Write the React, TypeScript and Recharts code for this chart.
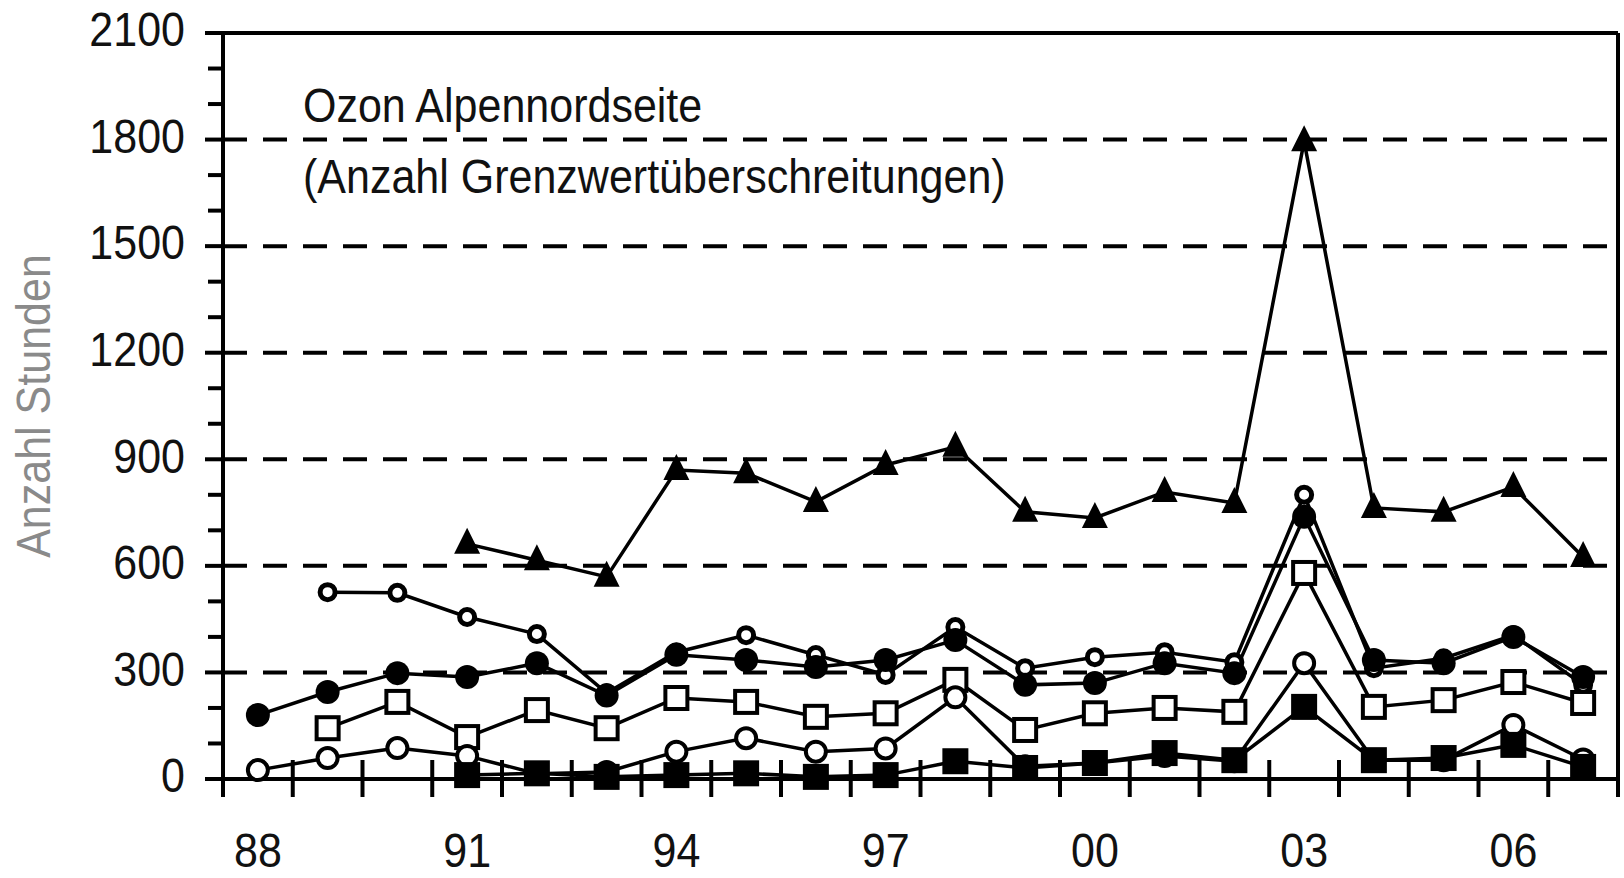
import { LineChart, Line, XAxis, YAxis, ReferenceLine } from 'recharts';

const years = [
  1988, 1989, 1990, 1991, 1992, 1993, 1994, 1995, 1996, 1997,
  1998, 1999, 2000, 2001, 2002, 2003, 2004, 2005, 2006, 2007,
];
const labelYears = [1988, 1991, 1994, 1997, 2000, 2003, 2006];

// hours above limit, one list per station (marker type)
const triangles = [null, null, null, 662, 616, 569, 870, 861, 780, 884, 935, 752, 735, 808, 777, 1795, 763, 752, 822, 625];
const smallCircles = [null, 526, 524, 456, 408, 242, 357, 405, 349, 293, 428, 312, 343, 357, 329, 800, 312, 340, 405, 265];
const filledCircles = [180, 245, 298, 287, 326, 235, 350, 335, 315, 335, 391, 265, 270, 326, 298, 738, 335, 326, 400, 287];
const openSquares = [null, 143, 217, 118, 194, 143, 228, 217, 175, 185, 279, 138, 185, 200, 189, 580, 203, 222, 273, 214];
const openCircles = [25, 59, 87, 65, 15, 20, 77, 115, 77, 86, 230, 36, 45, 65, 50, 326, 53, 53, 152, 55];
const filledSquares = [null, null, null, 11, 16, 6, 11, 16, 6, 11, 50, 31, 45, 73, 53, 203, 53, 59, 96, 34];

const yTicks = Array.from({ length: 22 }, (_, i) => i * 100);
const gridValues = [300, 600, 900, 1200, 1500, 1800];

const data = years.map((year, i) => ({
  year,
  triangles: triangles[i],
  smallCircles: smallCircles[i],
  filledCircles: filledCircles[i],
  openSquares: openSquares[i],
  openCircles: openCircles[i],
  filledSquares: filledSquares[i],
}));

const xTicks = [
  ...years.map((y) => y - 0.5),
  years[years.length - 1] + 0.5,
  ...labelYears,
].sort((a, b) => a - b);

const FONT = '"Liberation Sans", Arial, sans-serif';

function YTick({ x, y, payload }: any) {
  const v = payload.value;
  const major = v % 300 === 0;
  return (
    <g>
      <line x1={x - (major ? 18 : 15)} x2={x} y1={y} y2={y} stroke="#000" strokeWidth={4} />
      {major && (
        <g transform={`translate(${x - 38} ${y - 4}) scale(1 1.12)`}>
          <text x={0} y={15.4} textAnchor="end" fontSize={43} fontFamily={FONT} fill="#111">
            {v}
          </text>
        </g>
      )}
    </g>
  );
}

function XTick({ x, y, payload }: any) {
  const v = payload.value;
  if (!Number.isInteger(v)) {
    return <line x1={x} x2={x} y1={y - 19} y2={y + 18} stroke="#000" strokeWidth={4} />;
  }
  return (
    <g transform={`translate(${x} ${y + 71}) scale(1 1.1)`}>
      <text x={0} y={15.4} textAnchor="middle" fontSize={43} fontFamily={FONT} fill="#111">
        {String(v).slice(2)}
      </text>
    </g>
  );
}

const empty = (key: string) => <g key={key} />;

const triangleDot = (p: any) => {
  const k = `tri-${p.index}`;
  if (p.cy == null || p.value == null) return empty(k);
  const { cx, cy } = p;
  return <path key={k} d={`M${cx},${cy - 16} L${cx + 13},${cy + 10} L${cx - 13},${cy + 10} Z`} fill="#000" />;
};
const smallCircleDot = (p: any) => {
  const k = `sc-${p.index}`;
  if (p.cy == null || p.value == null) return empty(k);
  return <circle key={k} cx={p.cx} cy={p.cy} r={7.5} fill="#fff" stroke="#000" strokeWidth={5} />;
};
const filledCircleDot = (p: any) => {
  const k = `fc-${p.index}`;
  if (p.cy == null || p.value == null) return empty(k);
  return <circle key={k} cx={p.cx} cy={p.cy} r={12} fill="#000" />;
};
const openSquareDot = (p: any) => {
  const k = `os-${p.index}`;
  if (p.cy == null || p.value == null) return empty(k);
  return <rect key={k} x={p.cx - 11} y={p.cy - 11} width={22} height={22} fill="#fff" stroke="#000" strokeWidth={4} />;
};
const openCircleDot = (p: any) => {
  const k = `oc-${p.index}`;
  if (p.cy == null || p.value == null) return empty(k);
  return <circle key={k} cx={p.cx} cy={p.cy} r={10} fill="#fff" stroke="#000" strokeWidth={4} />;
};
const filledSquareDot = (p: any) => {
  const k = `fs-${p.index}`;
  if (p.cy == null || p.value == null) return empty(k);
  return <rect key={k} x={p.cx - 13} y={p.cy - 13} width={26} height={26} fill="#000" />;
};

const textStyle = {
  position: 'absolute' as const,
  fontFamily: FONT,
  fontSize: 43,
  lineHeight: 1,
  whiteSpace: 'nowrap' as const,
  color: '#111',
  transform: 'scale(1, 1.12)',
  transformOrigin: 'left center',
};

export default function App() {
  return (
    <div style={{ position: 'absolute', left: 0, top: 0, width: 1624, height: 878, background: '#fff' }}>
      <LineChart width={1624} height={878} data={data} margin={{ top: 33, right: 6, bottom: 0, left: 0 }}>
        <XAxis
          dataKey="year"
          type="number"
          domain={[1987.5, 2007.5]}
          ticks={xTicks}
          interval={0}
          height={99}
          tickSize={0}
          tickMargin={0}
          tickLine={false}
          tick={<XTick />}
          axisLine={{ stroke: '#000', strokeWidth: 4 }}
        />
        <YAxis
          type="number"
          domain={[0, 2100]}
          ticks={yTicks}
          interval={0}
          width={223}
          tickSize={0}
          tickMargin={0}
          tickLine={false}
          tick={<YTick />}
          axisLine={{ stroke: '#000', strokeWidth: 4 }}
        />
        {gridValues.map((v) => (
          <ReferenceLine key={v} y={v} stroke="#000" strokeWidth={4} strokeDasharray="24 16" />
        ))}
        <ReferenceLine y={2100} stroke="#000" strokeWidth={4} />
        <ReferenceLine x={2007.5} stroke="#000" strokeWidth={4} />
        <Line dataKey="triangles" stroke="#000" strokeWidth={3.5} dot={triangleDot} isAnimationActive={false} />
        <Line dataKey="smallCircles" stroke="#000" strokeWidth={3.5} dot={smallCircleDot} isAnimationActive={false} />
        <Line dataKey="filledCircles" stroke="#000" strokeWidth={3.5} dot={filledCircleDot} isAnimationActive={false} />
        <Line dataKey="openSquares" stroke="#000" strokeWidth={3.5} dot={openSquareDot} isAnimationActive={false} />
        <Line dataKey="openCircles" stroke="#000" strokeWidth={3.5} dot={openCircleDot} isAnimationActive={false} />
        <Line dataKey="filledSquares" stroke="#000" strokeWidth={3.5} dot={filledSquareDot} isAnimationActive={false} />
      </LineChart>
      <div style={{ ...textStyle, left: 303, top: 84 }}>Ozon Alpennordseite</div>
      <div style={{ ...textStyle, left: 303, top: 155 }}>(Anzahl Grenzwertüberschreitungen)</div>
      <div
        style={{
          position: 'absolute',
          left: 34,
          top: 406,
          fontFamily: FONT,
          fontSize: 43,
          lineHeight: 1,
          whiteSpace: 'nowrap',
          color: '#8a8a8a',
          transform: 'translate(-50%, -50%) rotate(-90deg) scale(1, 1.12)',
        }}
      >
        Anzahl Stunden
      </div>
    </div>
  );
}
